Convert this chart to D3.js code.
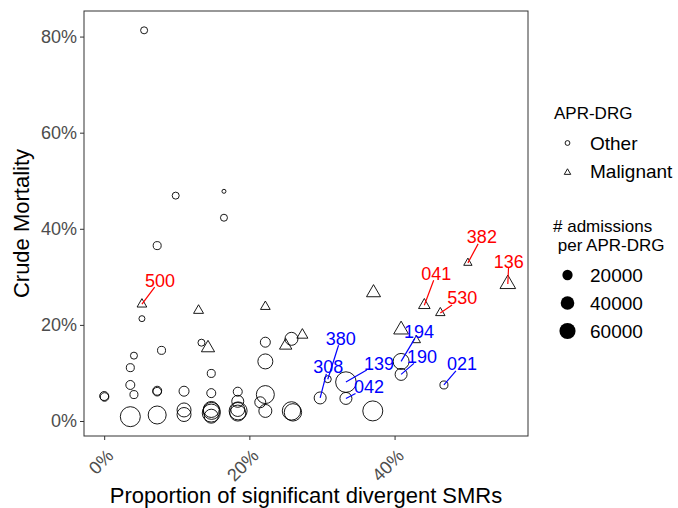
<!DOCTYPE html>
<html>
<head>
<meta charset="utf-8">
<script src="https://cdn.jsdelivr.net/npm/d3@7"></script>
<style>
  body { margin: 0; background: #fff; }
  svg { display: block; font-family: "Liberation Sans", Arial, sans-serif; }
</style>
</head>
<body>
<div id="chart"></div>
<script>
'use strict';

// APR-DRG code shown as label ("" = no label)
const drgCode = [
  '', '', '', '', '', '', '', '', '', '', '', '', '', '', '', '', '', '', '', '',
  '', '', '', '', '', '', '', '', '', '', '', '', '', '', '', '', '', '', '', '',
  '', '308', '380', '139', '042', '194', '190', '021',
  '500', '', '', '', '', '', '', '', '', '041', '530', '382', '136'
];
// proportion of significant divergent SMRs (%)
const propSignificant = [
  5.5, 9.85, 16.5, 16.5, 7.3, 5.2, 13.4, 22.2, 22.2, 25.8, 4.1, 3.6, 7.9, 14.75, 3.6, 4.1, 7.3, 7.3, 0, 0.05,
  11.0, 14.75, 18.4, 18.4, 22.2, 21.5, 22.2, 25.8, 26.0, 3.6, 7.3, 11.0, 11.0, 14.75, 14.75, 14.75, 14.8, 18.4, 18.4, 18.45,
  37.0, 29.75, 30.8, 33.3, 33.3, 40.9, 40.9, 46.8,
  5.2, 13.0, 22.2, 14.3, 25.0, 27.3, 37.1, 40.9, 43.0, 44.1, 46.3, 50.1, 55.6
];
// crude mortality (%)
const crudeMortality = [
  81.3, 46.9, 47.8, 42.3, 36.5, 21.3, 16.3, 16.4, 12.4, 17.1, 13.6, 11.1, 14.7, 9.9, 7.5, 5.5, 6.3, 6.1, 5.2, 5.0,
  6.2, 5.8, 6.1, 4.1, 5.5, 3.9, 2.1, 2.1, 1.8, 0.9, 1.25, 2.3, 1.35, 2.4, 1.65, 1.0, 2.1, 2.4, 1.65, 2.1,
  2.1, 4.8, 8.7, 8.1, 4.7, 12.4, 9.7, 7.5,
  24.3, 23.0, 23.8, 15.2, 15.7, 17.9, 26.7, 19.0, 16.8, 24.1, 22.5, 32.9, 28.5
];
// admissions per APR-DRG
const admissions = [
  7100, 7100, 1000, 7100, 10400, 4400, 7100, 18700, 50400, 35900, 7100, 10400, 10400, 10400, 14200, 10400, 14200, 12600, 14200, 12600,
  18700, 14200, 14200, 29600, 76800, 23800, 35900, 80800, 71100, 97500, 76800, 42900, 42900, 58600, 76800, 42900, 67400, 42900, 58600, 76800,
  97500, 29600, 7100, 104000, 29600, 58600, 29600, 10400,
  7700, 8300, 7700, 17800, 15100, 11100, 20700, 23800, 4900, 12600, 7100, 4900, 27200
];
const drgGroup = [].concat(d3.range(48).map(() => 'Other'), d3.range(13).map(() => 'Malignant'));

const groupLevels = ['Other', 'Malignant'];
const sizeBreaks = [20000, 40000, 60000];
const xTicks = [0, 20, 40];
const yTicks = [0, 20, 40, 60, 80];

// label offsets (px) from point to label centre
const LABEL_POS = {
  '500': [18, -24], '382': [14, -26], '136': [1, -23], '041': [12, -32], '530': [22, -15],
  '380': [13, -41], '308': [8, -31], '139': [33, -19], '042': [23, -12],
  '194': [18, -30], '190': [21, -18], '021': [18, -21]
};
const LABEL_COLOR = { Other: '#0000FF', Malignant: '#FF0000' };

const W = 678, H = 508;
const panel = { left: 84, top: 11, right: 528, bottom: 436 };

const data = drgCode.map((c, i) => ({
  code: c, x: propSignificant[i], y: crudeMortality[i], n: admissions[i], group: drgGroup[i]
}));

function padded(ext) {
  const p = (ext[1] - ext[0]) * 0.05;
  return [ext[0] - p, ext[1] + p];
}

const x = d3.scaleLinear().domain(padded(d3.extent(propSignificant))).range([panel.left, panel.right]);
const y = d3.scaleLinear().domain(padded(d3.extent(crudeMortality))).range([panel.bottom, panel.top]);
const r = d3.scaleSqrt().domain([0, 110000]).range([1.1, 10.55]);

// equal-area triangle, like R's pch 2
function trianglePath(R) {
  return `M0,${-1.555 * R}L${1.347 * R},${0.778 * R}L${-1.347 * R},${0.778 * R}Z`;
}

const svg = d3.select('#chart').append('svg').attr('width', W).attr('height', H);
svg.append('rect').attr('width', W).attr('height', H).attr('fill', '#fff');

// axes
const xAxis = svg.append('g').attr('transform', `translate(0,${panel.bottom})`)
  .call(d3.axisBottom(x).tickValues(xTicks).tickSize(4).tickFormat(d => d + '%'));
xAxis.select('.domain').remove();
xAxis.selectAll('line').attr('stroke', '#333').attr('stroke-width', 1);
xAxis.selectAll('text')
  .attr('fill', '#4D4D4D').attr('font-size', 18)
  .attr('text-anchor', 'end').attr('dy', null).attr('y', null)
  .attr('transform', 'translate(10,21) rotate(-45)');

const yAxis = svg.append('g').attr('transform', `translate(${panel.left},0)`)
  .call(d3.axisLeft(y).tickValues(yTicks).tickSize(4).tickFormat(d => d + '%'));
yAxis.select('.domain').remove();
yAxis.selectAll('line').attr('stroke', '#333').attr('stroke-width', 1);
yAxis.selectAll('text').attr('fill', '#4D4D4D').attr('font-size', 18).attr('x', -7);

svg.append('rect')
  .attr('x', panel.left).attr('y', panel.top)
  .attr('width', panel.right - panel.left).attr('height', panel.bottom - panel.top)
  .attr('fill', 'none').attr('stroke', '#333').attr('stroke-width', 1);

// points
const pts = svg.append('g');
data.forEach(d => {
  const g = pts.append('g').attr('transform', `translate(${x(d.x)},${y(d.y)})`);
  if (d.group === 'Other') {
    g.append('circle').attr('r', r(d.n)).attr('fill', 'none').attr('stroke', '#000').attr('stroke-width', 0.9);
  } else {
    g.append('path').attr('d', trianglePath(r(d.n))).attr('fill', 'none').attr('stroke', '#000').attr('stroke-width', 0.9);
  }
});

// repel-style labels with segments
const labels = svg.append('g');
data.filter(d => d.code).forEach(d => {
  const px = x(d.x), py = y(d.y);
  const [dx, dy] = LABEL_POS[d.code];
  const color = LABEL_COLOR[d.group];
  const cx = px + dx, cy = py + dy;
  const t = labels.append('text')
    .attr('x', cx).attr('y', cy).attr('dy', '0.36em')
    .attr('text-anchor', 'middle').attr('font-size', 18).attr('fill', color)
    .text(d.code);
  const bb = t.node().getBBox();
  const hw = bb.width / 2 + 1, hh = 7;
  const vx = px - cx, vy = py - cy;
  const s = Math.min(Math.abs(vx) > 0 ? hw / Math.abs(vx) : Infinity, Math.abs(vy) > 0 ? hh / Math.abs(vy) : Infinity);
  if (s >= 1) return;
  const sx = cx + vx * s, sy = cy + vy * s;
  if (Math.hypot(px - sx, py - sy) < 7) return;
  labels.insert('line', ':first-child')
    .attr('x1', sx).attr('y1', sy).attr('x2', px).attr('y2', py)
    .attr('stroke', color).attr('stroke-width', 1.2);
});

// axis titles
svg.append('text').attr('x', (panel.left + panel.right) / 2).attr('y', 503)
  .attr('text-anchor', 'middle').attr('font-size', 22).attr('fill', '#000')
  .text('Proportion of significant divergent SMRs');
svg.append('text').attr('transform', `translate(29,${(panel.top + panel.bottom) / 2}) rotate(-90)`)
  .attr('text-anchor', 'middle').attr('font-size', 22).attr('fill', '#000')
  .text('Crude Mortality');

// legends
const leg = svg.append('g');
leg.append('text').attr('x', 554).attr('y', 119).attr('font-size', 17).text('APR-DRG');
groupLevels.forEach((gname, i) => {
  const ky = 143 + i * 28.5;
  if (gname === 'Other') {
    leg.append('circle').attr('cx', 567.5).attr('cy', ky).attr('r', 2.4)
      .attr('fill', 'none').attr('stroke', '#000').attr('stroke-width', 0.9);
  } else {
    leg.append('path').attr('transform', `translate(567.5,${ky + 1})`).attr('d', trianglePath(2.4))
      .attr('fill', 'none').attr('stroke', '#000').attr('stroke-width', 0.9);
  }
  leg.append('text').attr('x', 590).attr('y', ky).attr('dy', '0.36em').attr('font-size', 19).text(gname);
});

leg.append('text').attr('x', 553).attr('y', 232).attr('font-size', 17).text('# admissions');
leg.append('text').attr('x', 553).attr('y', 251).attr('font-size', 17).attr('xml:space', 'preserve').text(' per APR-DRG');
sizeBreaks.forEach((b, i) => {
  const ky = 275 + i * 28;
  leg.append('circle').attr('cx', 567.5).attr('cy', ky).attr('r', r(b)).attr('fill', '#000');
  leg.append('text').attr('x', 590).attr('y', ky).attr('dy', '0.36em').attr('font-size', 19).text(b);
});
</script>
</body>
</html>
